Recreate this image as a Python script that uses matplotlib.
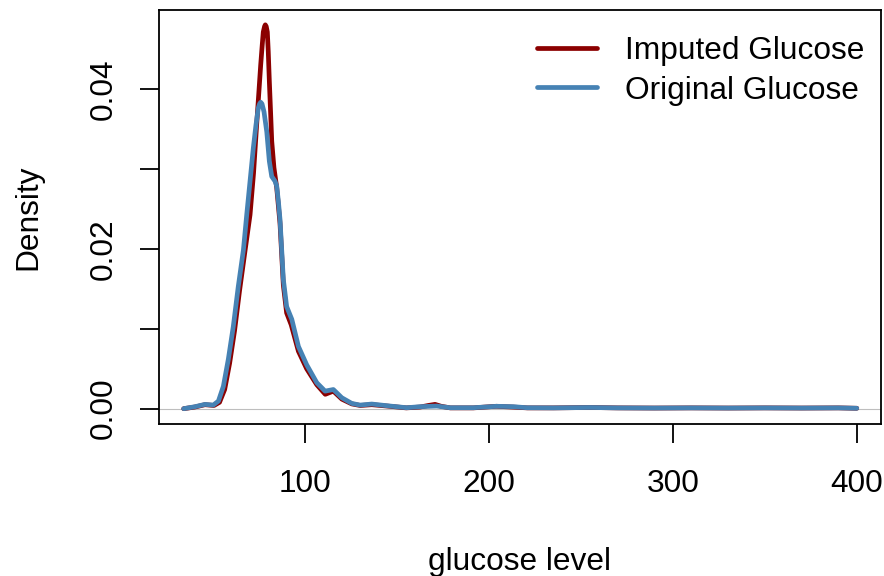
import matplotlib
matplotlib.use("Agg")
import matplotlib.pyplot as plt

# Imputed glucose density
x_imp = [34, 40, 45.6, 50.5, 53.5, 56.3, 59, 61.7, 64.4, 67.2, 70.1, 72, 73.7, 75, 75.9,
         76.7, 77.3, 78, 78.4, 78.9, 79.5, 80, 80.6, 81.3, 81.9, 83.1, 84.6, 86.4, 88.2,
         90, 92.5, 96.4, 100.9, 106.4, 111, 115.4, 120, 125.4, 130, 136.3, 146, 155,
         162.5, 167, 170.7, 174, 179, 191.5, 204, 213, 221, 235, 255, 270, 290, 310,
         330, 350, 370, 390, 400]
y_imp = [0, 0.0002, 0.0005, 0.0004, 0.0008, 0.0024, 0.0057, 0.0098, 0.0148, 0.0195, 0.0243,
         0.0295, 0.0356, 0.0400, 0.0431, 0.0455, 0.0472, 0.0479, 0.0481, 0.0479, 0.0472,
         0.0448, 0.041, 0.037, 0.0335, 0.0302, 0.0277, 0.0232, 0.0155, 0.0120, 0.0105,
         0.0072, 0.0050, 0.0030, 0.0018, 0.0022, 0.0012, 0.0006, 0.0004, 0.0005, 0.0003,
         0.0001, 0.0002, 0.0004, 0.00054, 0.0003, 0.0001, 0.0001, 0.0003, 0.0002, 0.0001,
         0.0001, 0.00015, 0.0001, 0.00008, 0.0001, 0.00008, 0.0001, 0.00008, 0.0001, 0.00005]

# Original glucose density
x_orig = [34, 40.2, 45.6, 50.1, 52.9, 55.6, 58.3, 61, 63.7, 66.5, 68.3, 70.1, 71.9, 73.3,
          74.6, 75.3, 75.9, 76.6, 77.7, 79.2, 80.6, 81.9, 83.7, 84.6, 85.5, 86.4, 88.2,
          90, 92.8, 96.4, 100.9, 106.4, 110.9, 115.4, 120, 125.4, 129.9, 136.3, 146.2,
          155.3, 162.5, 171.6, 178.8, 191.5, 204.2, 213.3, 220.6, 235, 255, 270, 290,
          310, 330, 350, 370, 390, 400]
y_orig = [0, 0.00025, 0.00054, 0.00045, 0.00095, 0.0028, 0.0062, 0.0103, 0.0153, 0.0199,
          0.0243, 0.0285, 0.0327, 0.0355, 0.0377, 0.0382, 0.0384, 0.0382, 0.0372, 0.0347,
          0.031, 0.0291, 0.0285, 0.0279, 0.026, 0.0237, 0.0162, 0.0128, 0.0112, 0.0078,
          0.0055, 0.00325, 0.0022, 0.0024, 0.00137, 0.00066, 0.00045, 0.00058, 0.00033,
          0.00012, 0.00025, 0.00033, 0.00012, 0.00012, 0.0003, 0.00025, 0.00012, 0.0001,
          0.00015, 0.0001, 0.00008, 0.0001, 0.00008, 0.0001, 0.00008, 0.0001, 0.00005]

x_ticks = [100, 200, 300, 400]
y_ticks = [0.00, 0.01, 0.02, 0.03, 0.04]
y_tick_labels = ["0.00", "", "0.02", "", "0.04"]
labels = ["Imputed Glucose", "Original Glucose"]

plt.rcParams['font.family'] = ['Liberation Sans', 'DejaVu Sans']
FS = 22.8

W, H = 884, 576
fig = plt.figure(figsize=(W / 100, H / 100), dpi=100)
L, R, T, B = 159, 880.7, 10, 424
ax = fig.add_axes([L / W, 1 - B / H, (R - L) / W, (B - T) / H])

ax.axhline(0, color='#BEBEBE', lw=0.8, zorder=1)
ax.plot(x_imp, y_imp, color='#8B0000', lw=3.4, label=labels[0], zorder=2,
        solid_capstyle='round', solid_joinstyle='round')
ax.plot(x_orig, y_orig, color='#4682B4', lw=3.4, label=labels[1], zorder=3,
        solid_capstyle='round', solid_joinstyle='round')

ax.set_xlim(20.6, 413)
ax.set_ylim(-0.00192, 0.04996)
ax.set_xticks(x_ticks)
ax.set_xticklabels([str(v) for v in x_ticks])
ax.set_yticks(y_ticks)
ax.set_yticklabels(y_tick_labels)
ax.tick_params(axis='both', direction='out', length=13.7, width=1.3, labelsize=FS)
ax.tick_params(axis='x', pad=19)
ax.tick_params(axis='y', pad=15, labelrotation=90)
for lab in ax.get_yticklabels():
    lab.set_va('center')
for s in ax.spines.values():
    s.set_linewidth(1.3)

ax.set_xlabel("glucose level", fontsize=FS, labelpad=34)
ax.set_ylabel("Density", fontsize=FS, labelpad=33)

ax.legend(loc='upper right', bbox_to_anchor=(0.978, 0.937), frameon=False, fontsize=FS,
          handlelength=1.9, handletextpad=0.9, labelspacing=0.3, borderaxespad=0, borderpad=0)

fig.savefig("out.png", dpi=100)
